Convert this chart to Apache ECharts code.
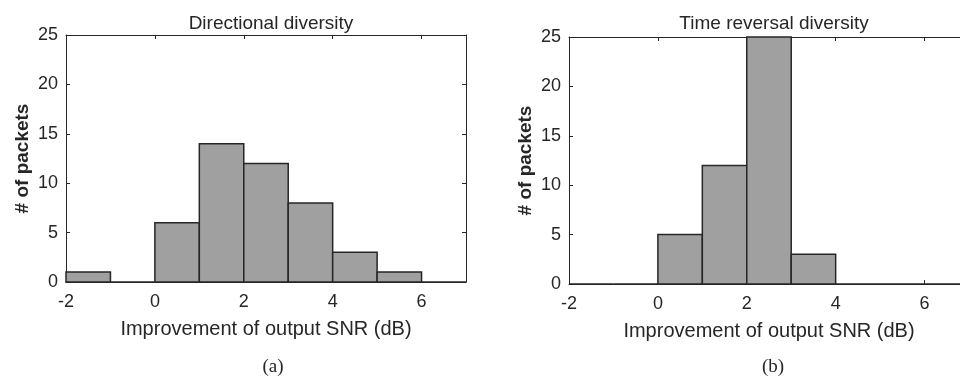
<!DOCTYPE html>
<html>
<head>
<meta charset="utf-8">
<script src="https://cdn.jsdelivr.net/npm/echarts@6/dist/echarts.min.js"></script>
<style>
  html, body { margin: 0; padding: 0; background: #fff; }
  #chart { width: 960px; height: 378px; }
</style>
</head>
<body>
<div id="chart"></div>
<script>
// Histogram bins: left edges, 1 dB wide
const binStarts = [-2, -1, 0, 1, 2, 3, 4, 5, 6];
const binWidth = 1;
// Packet counts per bin
const directionalCounts = [1, 0, 6, 14, 12, 8, 3, 1, 0];
const timeReversalCounts = [0, 0, 5, 12, 25, 3, 0, 0, 0];

const panelTitles = ['Directional diversity', 'Time reversal diversity'];
const panelTags = ['(a)', '(b)'];
const xAxisName = 'Improvement of output SNR (dB)';
const yAxisName = '# of packets';

const INK = '#262626';
const FONT = 'Liberation Sans, Arial, sans-serif';
const SERIF = 'Liberation Serif, Times New Roman, serif';

function histData(counts) {
  return binStarts.map((s, i) => [s, s + binWidth, counts[i]]);
}

function renderBin(params, api) {
  const p0 = api.coord([api.value(0), api.value(2)]);
  const p1 = api.coord([api.value(1), 0]);
  const cs = params.coordSys;
  const rect = echarts.graphic.clipRectByRect(
    { x: p0[0], y: p0[1], width: p1[0] - p0[0], height: p1[1] - p0[1] },
    { x: cs.x, y: cs.y - 1, width: cs.width, height: cs.height + 2 }
  );
  return rect && {
    type: 'rect',
    shape: rect,
    style: { fill: '#a0a0a0', stroke: INK, lineWidth: 1.5 }
  };
}

// the second panel runs past the right edge of the page
const grids = [
  { left: 66, top: 35, width: 400, height: 247, outerBoundsMode: 'none', containLabel: false },
  { left: 569, top: 37, width: 400, height: 247, outerBoundsMode: 'none', containLabel: false }
];

const xAxes = [];
const yAxes = [];
grids.forEach((g, i) => {
  // bottom axis with labels
  xAxes.push({
    type: 'value', gridIndex: i, min: -2, max: 7, interval: 2,
    name: xAxisName, nameLocation: 'middle', nameGap: 37,
    nameTextStyle: { fontFamily: FONT, fontSize: 20, color: INK },
    axisLine: { show: true, onZero: false, lineStyle: { color: INK, width: 1 } },
    axisTick: { show: true, inside: true, length: 4, lineStyle: { color: INK } },
    axisLabel: { fontFamily: FONT, fontSize: 18, color: INK, margin: 11,
      formatter: v => (v > 6 ? '' : String(v)) },
    splitLine: { show: false }
  });
  // top edge of the box, ticks only
  xAxes.push({
    type: 'value', gridIndex: i, position: 'top', min: -2, max: 7, interval: 2,
    axisLine: { show: true, onZero: false, lineStyle: { color: INK, width: 1 } },
    axisTick: { show: true, inside: true, length: 4, lineStyle: { color: INK } },
    axisLabel: { show: false }, splitLine: { show: false }
  });
  // left axis with labels
  yAxes.push({
    type: 'value', gridIndex: i, position: 'left', min: 0, max: 25, interval: 5,
    name: yAxisName, nameLocation: 'middle', nameGap: 34,
    nameTextStyle: { fontFamily: FONT, fontSize: 19, fontWeight: 'bold', color: INK },
    axisLine: { show: true, onZero: false, lineStyle: { color: INK, width: 1 } },
    axisTick: { show: true, inside: true, length: 4, lineStyle: { color: INK } },
    axisLabel: { fontFamily: FONT, fontSize: 18, color: INK, margin: 8 },
    splitLine: { show: false }
  });
  // right edge of the box, ticks only
  yAxes.push({
    type: 'value', gridIndex: i, position: 'right', min: 0, max: 25, interval: 5,
    axisLine: { show: true, onZero: false, lineStyle: { color: INK, width: 1 } },
    axisTick: { show: true, inside: true, length: 4, lineStyle: { color: INK } },
    axisLabel: { show: false }, splitLine: { show: false }
  });
});

const chart = echarts.init(document.getElementById('chart'), null, { renderer: 'canvas' });
chart.setOption({
  backgroundColor: '#ffffff',
  animation: false,
  title: [
    { text: panelTitles[0], left: 266, top: 9, textAlign: 'center',
      textStyle: { fontFamily: FONT, fontSize: 19, fontWeight: 'normal', color: INK } },
    { text: panelTitles[1], left: 769, top: 9, textAlign: 'center',
      textStyle: { fontFamily: FONT, fontSize: 19, fontWeight: 'normal', color: INK } },
    { text: panelTags[0], left: 268, top: 353, textAlign: 'center',
      textStyle: { fontFamily: SERIF, fontSize: 19, fontWeight: 'normal', color: INK } },
    { text: panelTags[1], left: 768, top: 353, textAlign: 'center',
      textStyle: { fontFamily: SERIF, fontSize: 19, fontWeight: 'normal', color: INK } }
  ],
  grid: grids,
  xAxis: xAxes,
  yAxis: yAxes,
  series: [
    { type: 'custom', xAxisIndex: 0, yAxisIndex: 0, renderItem: renderBin,
      encode: { x: [0, 1], y: 2 }, data: histData(directionalCounts), clip: false },
    { type: 'custom', xAxisIndex: 2, yAxisIndex: 2, renderItem: renderBin,
      encode: { x: [0, 1], y: 2 }, data: histData(timeReversalCounts), clip: false }
  ]
});
</script>
</body>
</html>
